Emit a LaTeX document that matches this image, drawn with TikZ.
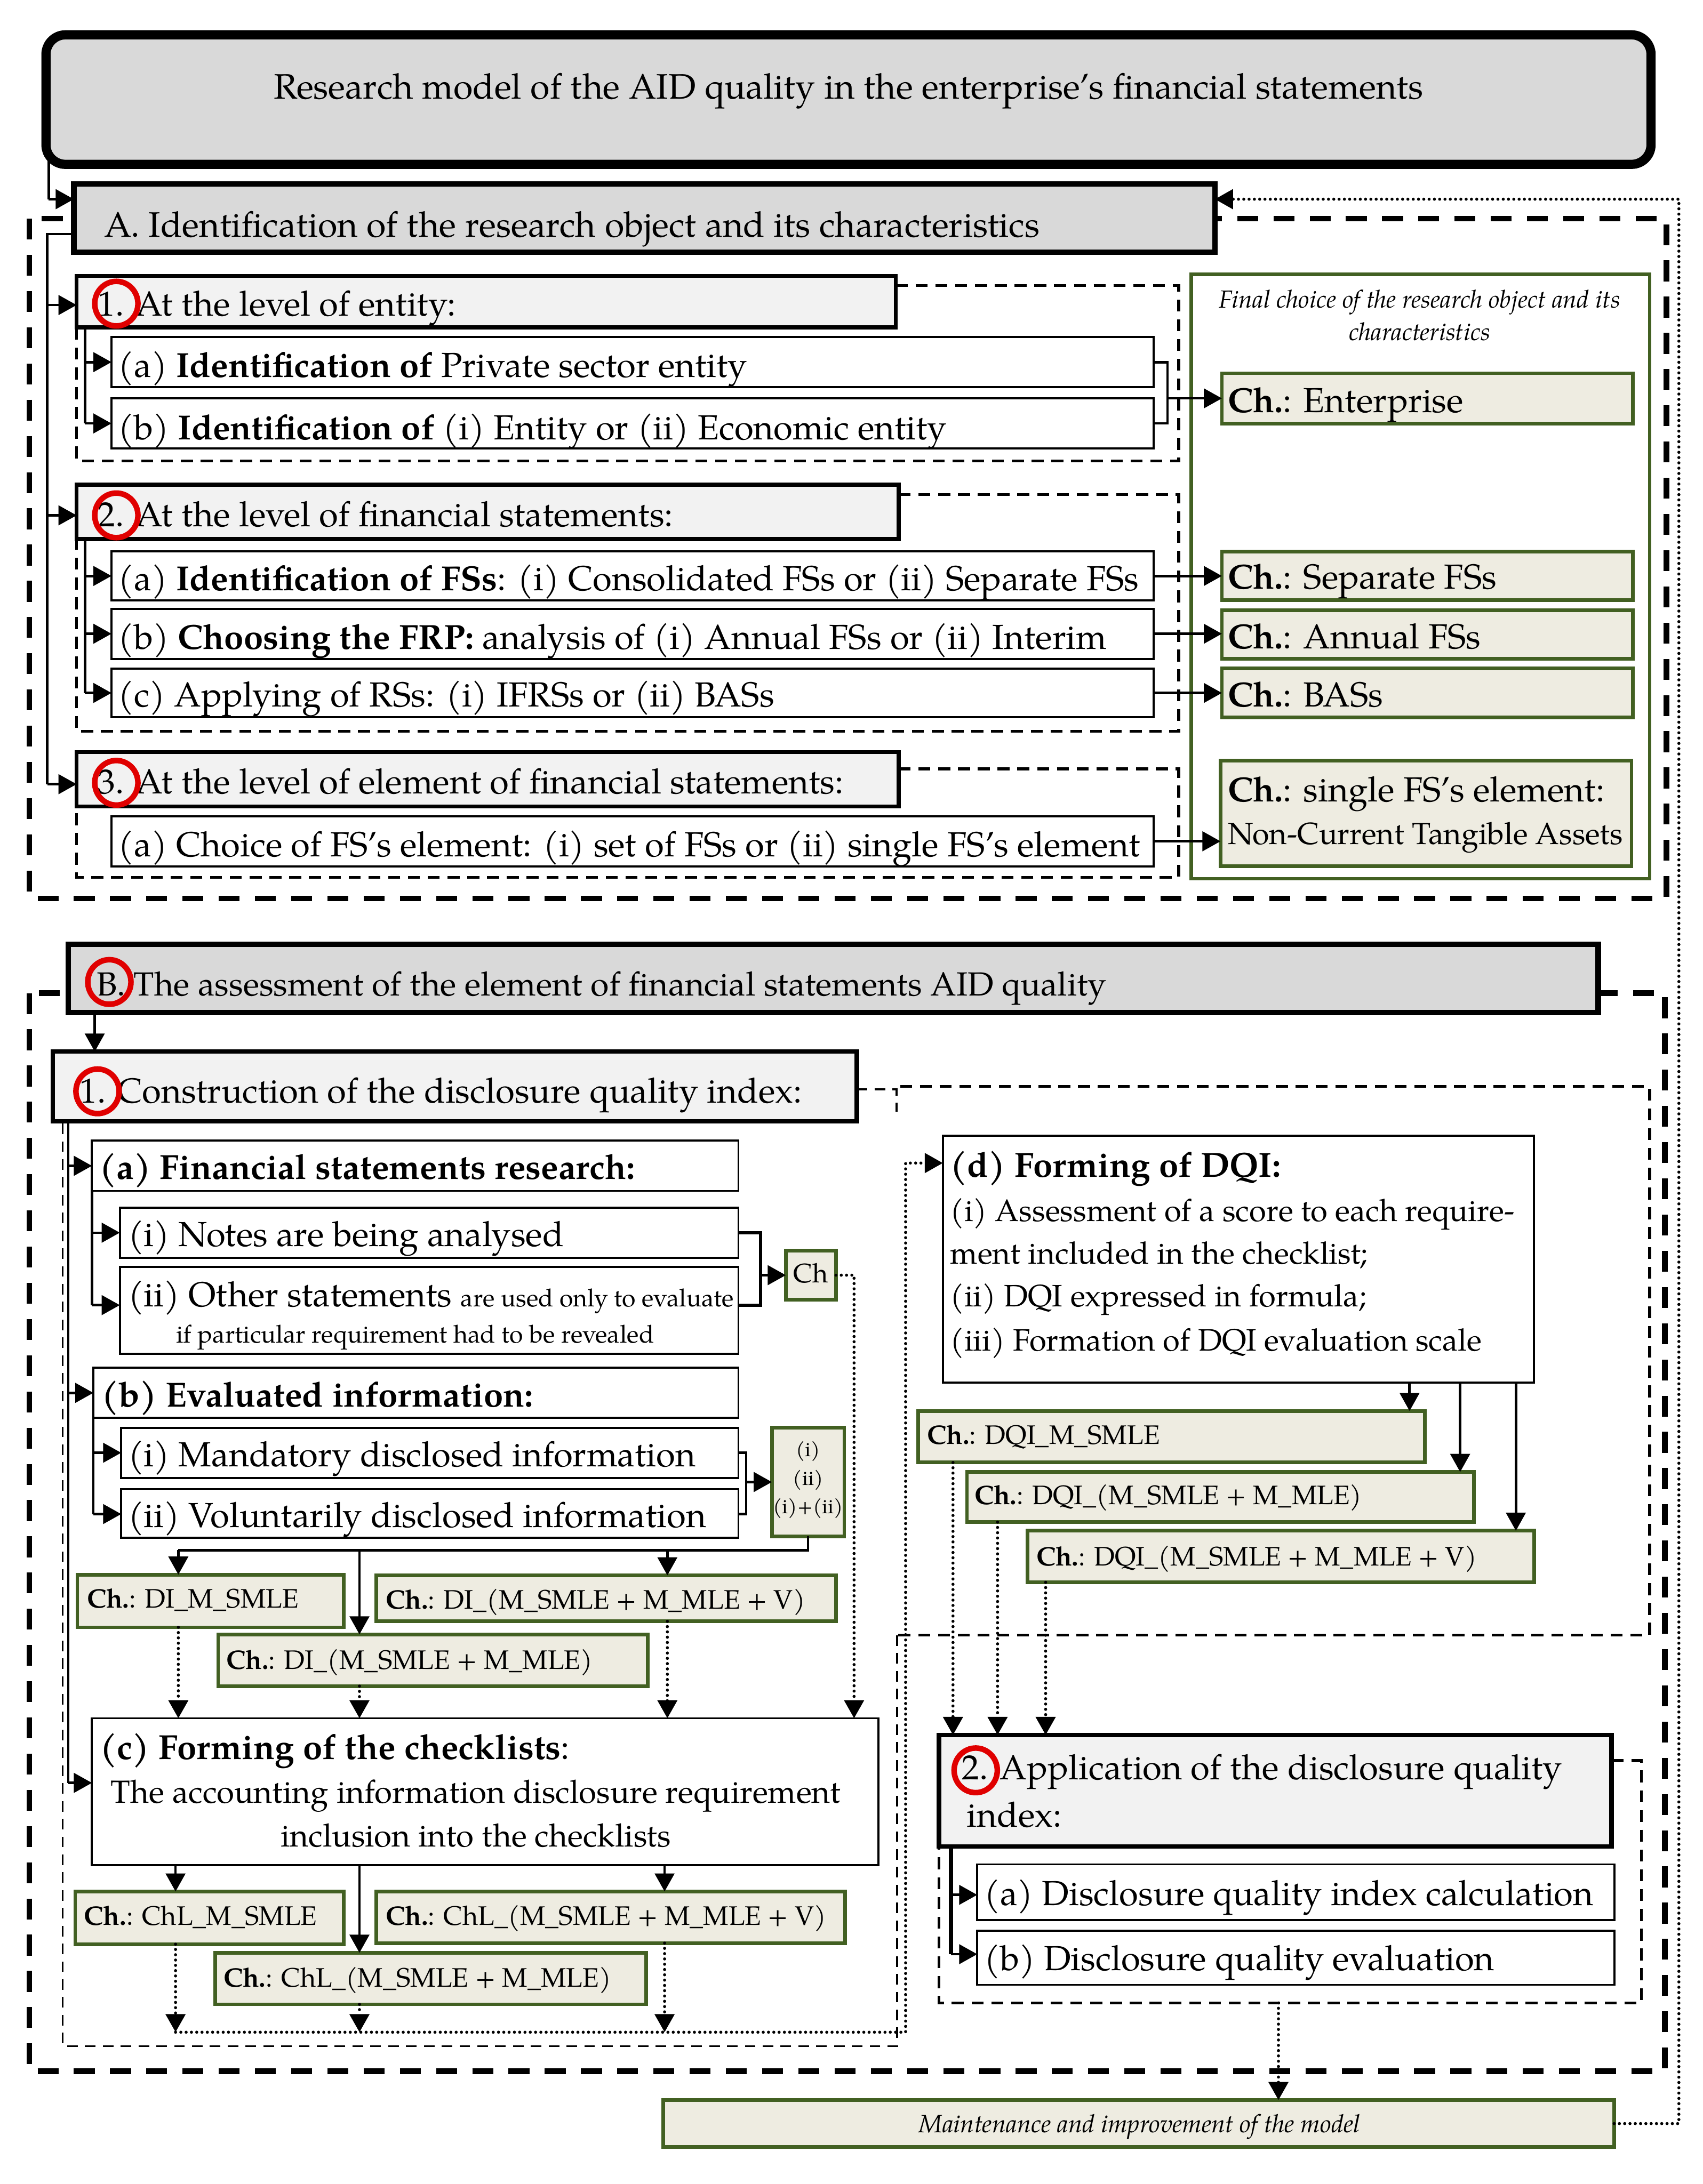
\documentclass[tikz,border=0pt]{standalone}
\usepackage{fontspec}
\setmainfont{TeX Gyre Pagella}
\usetikzlibrary{arrows.meta}
\definecolor{hdrgray}{HTML}{D9D9D9}
\definecolor{subgray}{HTML}{F2F2F2}
\definecolor{chfill}{HTML}{EEECE1}
\definecolor{chgreen}{RGB}{66,96,34}
\definecolor{circred}{RGB}{224,0,0}
\newcommand\fmain{\fontsize{12.5}{14}\selectfont}
\newcommand\fhA{\fontsize{12.7}{14}\selectfont}
\newcommand\fhB{\fontsize{12}{14}\selectfont}
\newcommand\ftitle{\fontsize{12.7}{15}\selectfont}
\newcommand\fcl{\fontsize{11.5}{13}\selectfont}
\newcommand\fch{\fontsize{9.6}{11}\selectfont}
\newcommand\fd{\fontsize{11.1}{13}\selectfont}
\newcommand\fnc{\fontsize{11}{13}\selectfont}
\newcommand\fsm{\fontsize{8.9}{10}\selectfont}
\newcommand\ftiny{\fontsize{7.3}{8}\selectfont}
\newcommand\fital{\fontsize{8.9}{10}\selectfont\itshape}
\newcommand\fmital{\fontsize{9}{10}\selectfont\itshape}
\newcommand\mybox[6]{\pgfmathsetmacro\bxw{(#4-#2)*0.5}\pgfmathsetmacro\bxh{(#5-#3)*0.5}\node[#6,anchor=north west,inner sep=0pt,outer sep=0pt,minimum width=\bxw pt,minimum height=\bxh pt] (#1) at (#2,#3) {};}
\newcommand\ltext[5]{\node[anchor=base west,inner sep=0pt,font=#4] (#1) at (#2,#3) {#5};}
\newcommand\ctext[5]{\node[anchor=base,inner sep=0pt,font=#4] (#1) at (#2,#3) {#5};}
\newcommand\redring[2]{\draw[circred,line width=2pt] (#1,#2) ellipse [x radius=7.75pt,y radius=8pt];}
\tikzset{
 hdr/.style={draw,fill=hdrgray,line width=2pt},
 subhdr/.style={draw,fill=subgray,line width=1.4pt},
 item/.style={draw,fill=white,line width=0.75pt},
 chbox/.style={draw=chgreen,fill=chfill,line width=1.3pt},
 panel/.style={draw=chgreen,fill=white,line width=1.2pt},
 conn/.style={line width=0.9pt},
 arr/.style={conn,-{Triangle[length=6.5pt,width=7pt]}},
 dots/.style={line width=1.1pt,line cap=round,dash pattern=on 0pt off 1.9pt},
 darr/.style={dots,-{Triangle[length=6.5pt,width=7pt]}},
 bigdash/.style={line width=2pt,dash pattern=on 7.5pt off 5.5pt},
 secdash/.style={line width=1pt,dash pattern=on 4.3pt off 2.8pt},
 thindash/.style={line width=0.7pt,dash pattern=on 3.8pt off 2.6pt}
}
\begin{document}
\begin{tikzpicture}[x=0.5pt,y=-0.5pt]
\useasboundingbox (0,0) rectangle (1222,1568);
% big dashed frames
\draw[bigdash] (21,157) rectangle (1196,645);
\draw[bigdash] (21,713) rectangle (1195,1487);
% title
\draw[conn] (35,100) -- (35,143);
\mybox{title}{33}{25}{1185}{118}{draw,fill=hdrgray,line width=3.3pt,rounded corners=7pt}
\ctext{titlet}{609}{71}{\ftitle}{Research model of the AID quality in the enterprise’s financial statements}
% ===== Section A =====
\mybox{tA}{53}{132}{872}{181}{hdr}
\ltext{tAt}{74.5}{170}{\fhA}{A. Identification of the research object and its characteristics}
\draw[arr] (35,143) -- (tA.west |- 0,143);
\mybox{panel}{855}{197}{1184}{631}{panel}
\ctext{pt1}{1019}{221}{\fital}{Final choice of the research object and its}
\ctext{pt2}{1019}{244.5}{\fital}{characteristics}
% level 1
\mybox{s1}{55}{198}{643}{235}{subhdr}
\ltext{s1t}{70}{227}{\fmain}{1. At the level of entity:}
\redring{83.5}{218}
\mybox{a1}{80}{242}{828}{278}{item}
\ltext{a1t}{84.5}{271}{\fmain}{(a) \textbf{Identification of} Private sector entity}
\mybox{b1}{80}{286}{828}{322}{item}
\ltext{b1t}{84.5}{315.5}{\fmain}{(b) \textbf{Identification of} (i) Entity or (ii) Economic entity}
\draw[secdash] (s1.east |- 0,205) -- (846,205) -- (846,331) -- (55,331) -- (s1.south west);
\mybox{chE}{877}{268}{1172}{304}{chbox}
\ltext{chEt}{881}{296}{\fmain}{\textbf{Ch.}: Enterprise}
\draw[conn] (61,235) -- (61,304);
\draw[arr] (a1.west -| 61,0) -- (a1.west);
\draw[arr] (b1.west -| 61,0) -- (b1.west);
\draw[conn] (a1.east) -- (838,260) -- (838,304) -- (b1.east);
\draw[arr] (chE.west -| 838,0) -- (chE.west);
% level 2
\mybox{s2}{55}{348}{645}{387}{subhdr}
\ltext{s2t}{70}{378}{\fmain}{2. At the level of financial statements:}
\redring{83.5}{370}
\mybox{a2}{80}{396}{828}{431}{item}
\ltext{a2t}{84.5}{424}{\fmain}{(a) \textbf{Identification of FSs}: (i) Consolidated FSs or (ii) Separate FSs}
\mybox{b2}{80}{437}{828}{473}{item}
\ltext{b2t}{84.5}{466}{\fmain}{(b) \textbf{Choosing the FRP:} analysis of (i) Annual FSs or (ii) Interim}
\mybox{c2}{80}{480}{828}{515}{item}
\ltext{c2t}{84.5}{507.5}{\fmain}{(c) Applying of RSs: (i) IFRSs or (ii) BASs}
\draw[secdash] (s2.east |- 0,355) -- (846,355) -- (846,525) -- (55,525) -- (s2.south west);
\mybox{chS}{877}{396}{1172}{431}{chbox}
\ltext{chSt}{881}{423}{\fmain}{\textbf{Ch.}: Separate FSs}
\mybox{chA}{877}{438}{1172}{473}{chbox}
\ltext{chAt}{881}{465.5}{\fmain}{\textbf{Ch.}: Annual FSs}
\mybox{chB}{877}{480}{1172}{515}{chbox}
\ltext{chBt}{881}{507.5}{\fmain}{\textbf{Ch.}: BASs}
\draw[conn] (61,387) -- (61,497.5);
\draw[arr] (a2.west -| 61,0) -- (a2.west);
\draw[arr] (b2.west -| 61,0) -- (b2.west);
\draw[arr] (c2.west -| 61,0) -- (c2.west);
\draw[arr] (a2.east) -- (a2.east -| chS.west);
\draw[arr] (b2.east) -- (b2.east -| chA.west);
\draw[arr] (c2.east) -- (c2.east -| chB.west);
% level 3
\mybox{s3}{55}{540}{645}{579}{subhdr}
\ltext{s3t}{70}{570}{\fmain}{3. At the level of element of financial statements:}
\redring{83.5}{562}
\mybox{a3}{80}{586}{828}{622}{item}
\ltext{a3t}{84.5}{615}{\fmain}{(a) Choice of FS’s element: (i) set of FSs or (ii) single FS’s element}
\draw[secdash] (s3.east |- 0,552) -- (846,552) -- (846,630) -- (55,630) -- (s3.south west);
\mybox{chF}{876}{546}{1171}{622}{chbox}
\ltext{chFt}{881}{575.5}{\fmain}{\textbf{Ch.}: single FS’s element:}
\ltext{chFt2}{881}{606}{\fnc}{Non-Current Tangible Assets}
\draw[arr] (a3.east) -- (a3.east -| chF.west);
% main left line in A
\draw[conn] (tA.west |- 0,168) -- (34,168) -- (34,563);
\draw[arr] (34,219) -- (s1.west |- 0,219);
\draw[arr] (34,370) -- (s2.west |- 0,370);
\draw[arr] (34,563) -- (s3.west |- 0,563);
% ===== Section B =====
\mybox{tB}{49}{678}{1147}{727}{hdr}
\ltext{tBt}{69}{715}{\fhB}{B. The assessment of the element of financial statements AID quality}
\redring{78.5}{705}
\mybox{B1}{38}{755}{615}{805}{draw,fill=subgray,line width=1.6pt}
\ltext{B1t}{57}{792}{\fmain}{1. Construction of the disclosure quality index:}
\redring{70}{783.5}
\draw[arr] (tB.south -| 68,0) -- (B1.north -| 68,0);
% B1 region
\draw[thindash] (B1.east |- 0,782) -- (643.6,782) -- (643.6,798);
\draw[secdash] (646,780) -- (1184,780) -- (1184,1174) -- (644,1174);
\draw[thindash] (644,1174) -- (644,1469) -- (45,1469) -- (B1.south -| 45,0);
% (a)
\mybox{aB}{66}{819}{530}{855}{item}
\ltext{aBt}{71}{846.5}{\fmain}{\textbf{(a) Financial statements research:}}
\mybox{iB}{86}{867}{530}{903}{item}
\ltext{iBt}{91.5}{895}{\fmain}{(i) Notes are being analysed}
\mybox{iiB}{86}{909.5}{530}{972}{item}
\ltext{iiBt}{91.5}{938}{\fmain}{(ii) Other statements {\fsm are used only to evaluate}}
\ctext{iiBt2}{298}{964}{\fsm}{if particular requirement had to be revealed}
\mybox{chC}{564}{898}{600}{933}{chbox}
\ctext{chCt}{582}{921}{\fch}{Ch}
\draw[conn] (66,855) -- (66,937);
\draw[arr] (iB.west -| 66,0) -- (iB.west);
\draw[arr] (66,937) -- (iiB.west |- 0,937);
\draw[conn,line width=1.2pt] (iB.east) -- (546,885) -- (546,937) -- (iiB.east |- 0,937);
\draw[arr] (chC.west -| 546,0) -- (chC.west);
% (b)
\mybox{bB}{67}{982}{530}{1018}{item}
\ltext{bBt}{72.5}{1010}{\fmain}{\textbf{(b) Evaluated information:}}
\mybox{ibB}{87}{1025}{530}{1061}{item}
\ltext{ibBt}{91.5}{1053}{\fmain}{(i) Mandatory disclosed information}
\mybox{iibB}{87}{1069}{530}{1104}{item}
\ltext{iibBt}{91.5}{1096.5}{\fmain}{(ii) Voluntarily disclosed information}
\mybox{chI}{554}{1025}{606}{1103}{chbox}
\ctext{chIt1}{580}{1045.5}{\ftiny}{(i)}
\ctext{chIt2}{580}{1066.5}{\ftiny}{(ii)}
\ctext{chIt3}{580}{1086.5}{\ftiny}{(i)+(ii)}
\draw[conn] (67,1018) -- (67,1087);
\draw[arr] (ibB.west -| 67,0) -- (ibB.west);
\draw[arr] (67,1087) -- (iibB.west |- 0,1087);
\draw[conn] (ibB.east) -- (535.5,1043) -- (535.5,1087) -- (iibB.east |- 0,1087);
\draw[arr] (chI.west -| 535.5,0) -- (chI.west);
% DI boxes
\mybox{diM}{55.5}{1130.5}{246.6}{1168.3}{chbox}
\ltext{diMt}{62}{1154.5}{\fch}{\textbf{Ch.}: DI\_M\_SMLE}
\mybox{diMMV}{270}{1131}{600}{1164}{chbox}
\ltext{diMMVt}{276.5}{1155}{\fch}{\textbf{Ch.}: DI\_(M\_SMLE + M\_MLE + V)}
\mybox{diMM}{156.6}{1173.4}{465}{1210.5}{chbox}
\ltext{diMMt}{162}{1198.5}{\fch}{\textbf{Ch.}: DI\_(M\_SMLE + M\_MLE)}
\draw[conn] (chI.south) -- (chI.south |- 0,1113) -- (128,1113);
\draw[arr] (128,1113) -- (diM.north -| 128,0);
\draw[arr] (258,1113) -- (diMM.north -| 258,0);
\draw[arr] (479,1113) -- (diMMV.north -| 479,0);
% (c)
\mybox{cB}{66}{1233.6}{630.6}{1339}{item}
\ltext{cBt1}{71.5}{1263}{\fmain}{\textbf{(c) Forming of the checklists}:}
\ctext{cBt2}{341.5}{1294.5}{\fcl}{The accounting information disclosure requirement}
\ctext{cBt3}{341.5}{1326}{\fcl}{inclusion into the checklists}
\draw[darr] (diM.south -| 128,0) -- (cB.north -| 128,0);
\draw[darr] (diMM.south -| 258,0) -- (cB.north -| 258,0);
\draw[darr] (diMMV.south -| 479,0) -- (cB.north -| 479,0);
\draw[darr] (chC.east) -- (613,915.5) -- (cB.north -| 613,0);
\draw[conn] (49,805) -- (49,1280);
\draw[arr] (aB.west -| 49,0) -- (aB.west);
\draw[arr] (bB.west -| 49,0) -- (bB.west);
\draw[arr] (49,1280) -- (cB.west |- 0,1280);
% ChL boxes
\mybox{chlM}{54}{1358}{246.6}{1395.8}{chbox}
\ltext{chlMt}{60}{1382}{\fch}{\textbf{Ch.}: ChL\_M\_SMLE}
\mybox{chlMMV}{270}{1358}{606.7}{1395}{chbox}
\ltext{chlMMVt}{276.5}{1382}{\fch}{\textbf{Ch.}: ChL\_(M\_SMLE + M\_MLE + V)}
\mybox{chlMM}{154.5}{1402}{463.8}{1439}{chbox}
\ltext{chlMMt}{160}{1426.5}{\fch}{\textbf{Ch.}: ChL\_(M\_SMLE + M\_MLE)}
\draw[arr] (cB.south -| 126,0) -- (chlM.north -| 126,0);
\draw[arr] (cB.south -| 258,0) -- (chlMM.north -| 258,0);
\draw[arr] (cB.south -| 477,0) -- (chlMMV.north -| 477,0);
\draw[darr] (chlM.south -| 126,0) -- (126,1459);
\draw[darr] (chlMM.south -| 258,0) -- (258,1459);
\draw[darr] (chlMMV.south -| 477,0) -- (477,1459);
% (d)
\mybox{dB}{676.7}{815.3}{1101}{992.6}{item}
\ltext{dBt1}{681.7}{845}{\fmain}{\textbf{(d) Forming of DQI:}}
\ltext{dBt2}{681.7}{877}{\fd}{(i) Assessment of a score to each require-}
\ltext{dBt3}{681.7}{907.5}{\fd}{ment included in the checklist;}
\ltext{dBt4}{681.7}{938}{\fd}{(ii) DQI expressed in formula;}
\ltext{dBt5}{681.7}{970}{\fd}{(iii) Formation of DQI evaluation scale}
\draw[darr] (126,1459) -- (650,1459) -- (650,835) -- (dB.west |- 0,835);
\mybox{dqM}{659}{1013}{1022.6}{1050}{chbox}
\ltext{dqMt}{665}{1037}{\fch}{\textbf{Ch.}: DQI\_M\_SMLE}
\mybox{dqMM}{694}{1056.8}{1057.8}{1092.8}{chbox}
\ltext{dqMMt}{699}{1080}{\fch}{\textbf{Ch.}: DQI\_(M\_SMLE + M\_MLE)}
\mybox{dqMMV}{737.4}{1099}{1101}{1136}{chbox}
\ltext{dqMMVt}{743.4}{1124}{\fch}{\textbf{Ch.}: DQI\_(M\_SMLE + M\_MLE + V)}
\draw[arr] (dB.south -| 1011.7,0) -- (dqM.north -| 1011.7,0);
\draw[arr] (dB.south -| 1048,0) -- (dqMM.north -| 1048,0);
\draw[arr] (dB.south -| 1088,0) -- (dqMMV.north -| 1088,0);
% B2
\mybox{B2}{674}{1245.6}{1156.7}{1325.7}{draw,fill=subgray,line width=1.6pt}
\ltext{B2t1}{690}{1277.5}{\fmain}{2. Application of the disclosure quality}
\ltext{B2t2}{693.6}{1311.5}{\fmain}{index:}
\redring{700.3}{1271}
\draw[darr] (dqM.south -| 684,0) -- (B2.north -| 684,0);
\draw[darr] (dqMM.south -| 716,0) -- (B2.north -| 716,0);
\draw[darr] (dqMMV.south -| 750.5,0) -- (B2.north -| 750.5,0);
\mybox{aB2}{701.4}{1338.5}{1158.7}{1378.5}{item}
\ltext{aB2t}{706}{1368}{\fmain}{(a) Disclosure quality index calculation}
\mybox{bB2}{701.4}{1386}{1158.7}{1425}{item}
\ltext{bB2t}{706}{1414.5}{\fmain}{(b) Disclosure quality evaluation}
\draw[secdash] (B2.east |- 0,1264) -- (1178,1264) -- (1178,1438) -- (674,1438) -- (B2.south west);
\draw[conn,line width=1.4pt] (682.6,1325.7) -- (682.6,1403);
\draw[arr] (682.6,1360.4) -- (aB2.west |- 0,1360.4);
\draw[arr] (682.6,1403) -- (bB2.west |- 0,1403);
% maintenance
\mybox{maint}{476}{1507.7}{1158.5}{1541.5}{chbox}
\ctext{maintt}{818}{1531}{\fmital}{Maintenance and improvement of the model}
\draw[darr] (917.6,1438) -- (maint.north -| 917.6,0);
\draw[darr] (maint.east) -- (1205,1524.6) -- (1205,143) -- (tA.east |- 0,143);
\end{tikzpicture}
\end{document}
